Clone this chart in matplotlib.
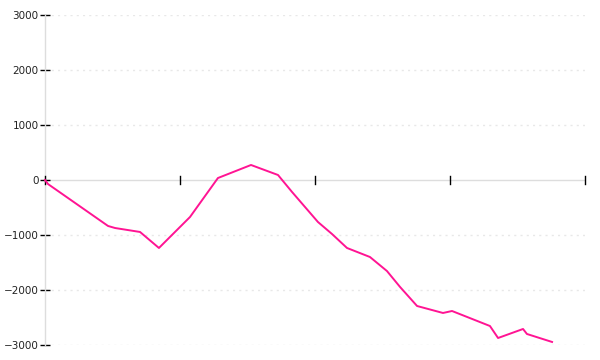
import matplotlib.pyplot as plt
import numpy as np

# values
x_vals = [0, 0.22, 4.67, 5.19, 7.04, 8.44, 10.74, 12.81, 15.26, 17.26, 18.30,
          20.22, 21.26, 22.37, 24.07, 25.33, 26.30, 27.56, 29.48, 30.15, 32.96,
          33.56, 35.41, 35.70, 37.56]
y_vals = [0, -73, -836, -873, -945, -1236, -673, 36, 273, 91, -218,
          -764, -982, -1236, -1400, -1655, -1945, -2291, -2418, -2382, -2655,
          -2873, -2709, -2800, -2945]
y_ticks = [-3000, -2000, -1000, 0, 1000, 2000, 3000]
x_ticks = [0, 10, 20, 30, 40]

fig = plt.figure(figsize=(6, 3.6), dpi=100)
ax = fig.add_axes([0.075, 0.0417, 0.9, 0.9166])

ax.set_xlim(0, 40)
ax.set_ylim(-3000, 3000)

for s in ['top', 'right', 'bottom']:
    ax.spines[s].set_visible(False)
ax.spines['left'].set_color('#dddddd')
ax.spines['left'].set_linewidth(1)

# dotted grid
for yt in y_ticks:
    if yt != 0:
        ax.axhline(yt, color='#e8e8e8', linestyle=(0, (1.5, 3)), linewidth=1, zorder=0)
ax.axhline(0, color='#dddddd', linewidth=1, zorder=1)

ax.set_yticks(y_ticks)
ax.set_yticklabels([str(t).replace('-', '\u2212') for t in y_ticks])
ax.tick_params(axis='y', direction='inout', length=7, width=1, color='black',
               labelsize=7.5, labelcolor='#222222', pad=1)

# x ticks sit on the zero line, no labels
ax.set_xticks([])
for xt in x_ticks:
    ax.plot([xt, xt], [-75, 75], color='black', linewidth=1, zorder=3, clip_on=False)

ax.plot(x_vals, y_vals, color='#ff1493', linewidth=1.4, zorder=4, clip_on=False)

fig.savefig('out.png', dpi=100)
